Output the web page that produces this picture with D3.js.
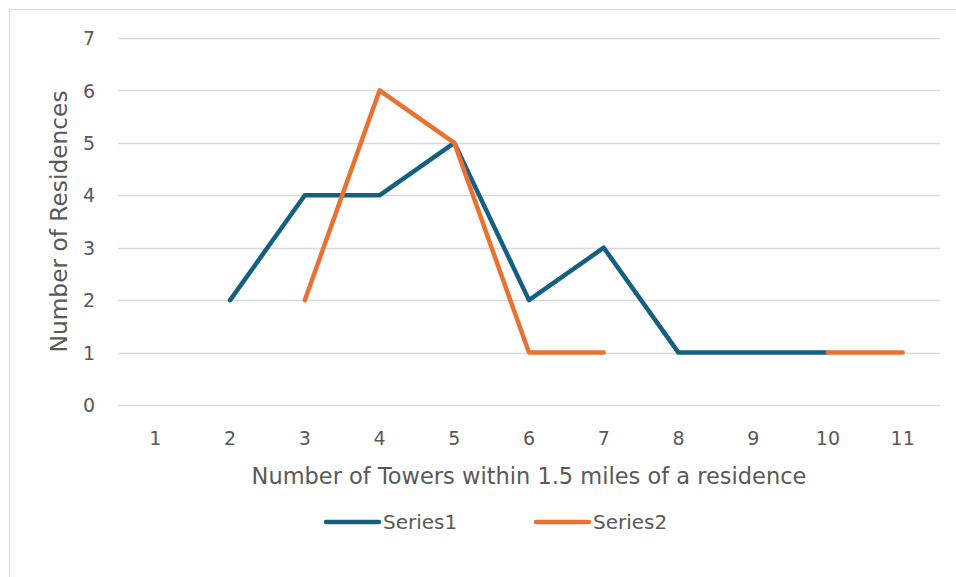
<!DOCTYPE html>
<html>
<head>
<meta charset="utf-8">
<script src="https://cdn.jsdelivr.net/npm/d3@7"></script>
<style>
  html, body { margin: 0; padding: 0; background: #fff; }
  svg { display: block; font-family: "DejaVu Sans", "Open Sans", Arial, sans-serif; }
</style>
</head>
<body>
<svg id="chart" width="956" height="577"></svg>
<script>
// Towers within 1.5 miles of a residence vs. number of residences
const categories = [1, 2, 3, 4, 5, 6, 7, 8, 9, 10, 11];
const series1 = [null, 2, 4, 4, 5, 2, 3, 1, 1, 1, null];
const series2 = [null, null, 2, 6, 5, 1, 1, null, null, 1, 1];
const yTicks = [0, 1, 2, 3, 4, 5, 6, 7];
const seriesNames = ["Series1", "Series2"];
const seriesColors = ["#156082", "#E97132"];

const svg = d3.select("#chart");
const W = 956, H = 577;
const textColor = "#595959";

// chart area frame
svg.append("rect")
  .attr("x", 9.5).attr("y", 9.5)
  .attr("width", W + 10).attr("height", H + 10)
  .attr("fill", "#fff").attr("stroke", "#d9d9d9").attr("stroke-width", 1);

const plot = { left: 118, right: 940, top: 38, bottom: 405 };

const x = d3.scaleBand()
  .domain(categories)
  .range([plot.left, plot.right]);

const y = d3.scaleLinear()
  .domain([0, 7])
  .range([plot.bottom, plot.top]);

// horizontal gridlines
svg.append("g")
  .selectAll("line")
  .data(yTicks)
  .join("line")
  .attr("x1", plot.left).attr("x2", plot.right)
  .attr("y1", d => Math.round(y(d)) + 0.5).attr("y2", d => Math.round(y(d)) + 0.5)
  .attr("stroke", "#d9d9d9").attr("stroke-width", 1.3);

// y axis labels
const yAxis = d3.axisLeft(y).tickValues(yTicks).tickFormat(d3.format("d")).tickSize(0).tickPadding(0);
const gy = svg.append("g").attr("transform", `translate(${plot.left - 23},0)`).call(yAxis);
gy.select(".domain").remove();
gy.selectAll("text")
  .attr("fill", textColor).attr("font-size", 19).attr("dy", "0.35em");

// x axis labels
const xAxis = d3.axisBottom(x).tickSize(0).tickPadding(0);
const gx = svg.append("g").attr("transform", `translate(0,${plot.bottom + 33})`).call(xAxis);
gx.select(".domain").remove();
gx.selectAll("text")
  .attr("fill", textColor).attr("font-size", 19).attr("dy", "0.35em");
svg.selectAll(".tick text").attr("font-family", "DejaVu Sans, sans-serif");

// axis titles
svg.append("text")
  .attr("x", (plot.left + plot.right) / 2).attr("y", 484)
  .attr("text-anchor", "middle")
  .attr("fill", textColor).attr("font-size", 22.5)
  .text("Number of Towers within 1.5 miles of a residence");

svg.append("text")
  .attr("transform", `translate(67,${(plot.top + plot.bottom) / 2}) rotate(-90)`)
  .attr("text-anchor", "middle")
  .attr("fill", textColor).attr("font-size", 23.3)
  .text("Number of Residences");

// series lines (gaps where no value)
const line = d3.line()
  .defined(d => d.v !== null)
  .x(d => x(d.c) + x.bandwidth() / 2)
  .y(d => y(d.v));

[series1, series2].forEach((vals, i) => {
  const pts = categories.map((c, j) => ({ c, v: vals[j] }));
  svg.append("path")
    .datum(pts)
    .attr("d", line)
    .attr("fill", "none")
    .attr("stroke", seriesColors[i])
    .attr("stroke-width", 4.5)
    .attr("stroke-linecap", "round")
    .attr("stroke-linejoin", "round");
});

// legend
const legendX = [326, 536];
seriesNames.forEach((name, i) => {
  const g = svg.append("g").attr("transform", `translate(${legendX[i]},522)`);
  g.append("line")
    .attr("x1", 0).attr("x2", 53).attr("y1", 0).attr("y2", 0)
    .attr("stroke", seriesColors[i]).attr("stroke-width", 4.5)
    .attr("stroke-linecap", "round");
  g.append("text")
    .attr("x", 57).attr("y", 0).attr("dy", "0.35em")
    .attr("fill", textColor).attr("font-size", 20)
    .text(name);
});
</script>
</body>
</html>
